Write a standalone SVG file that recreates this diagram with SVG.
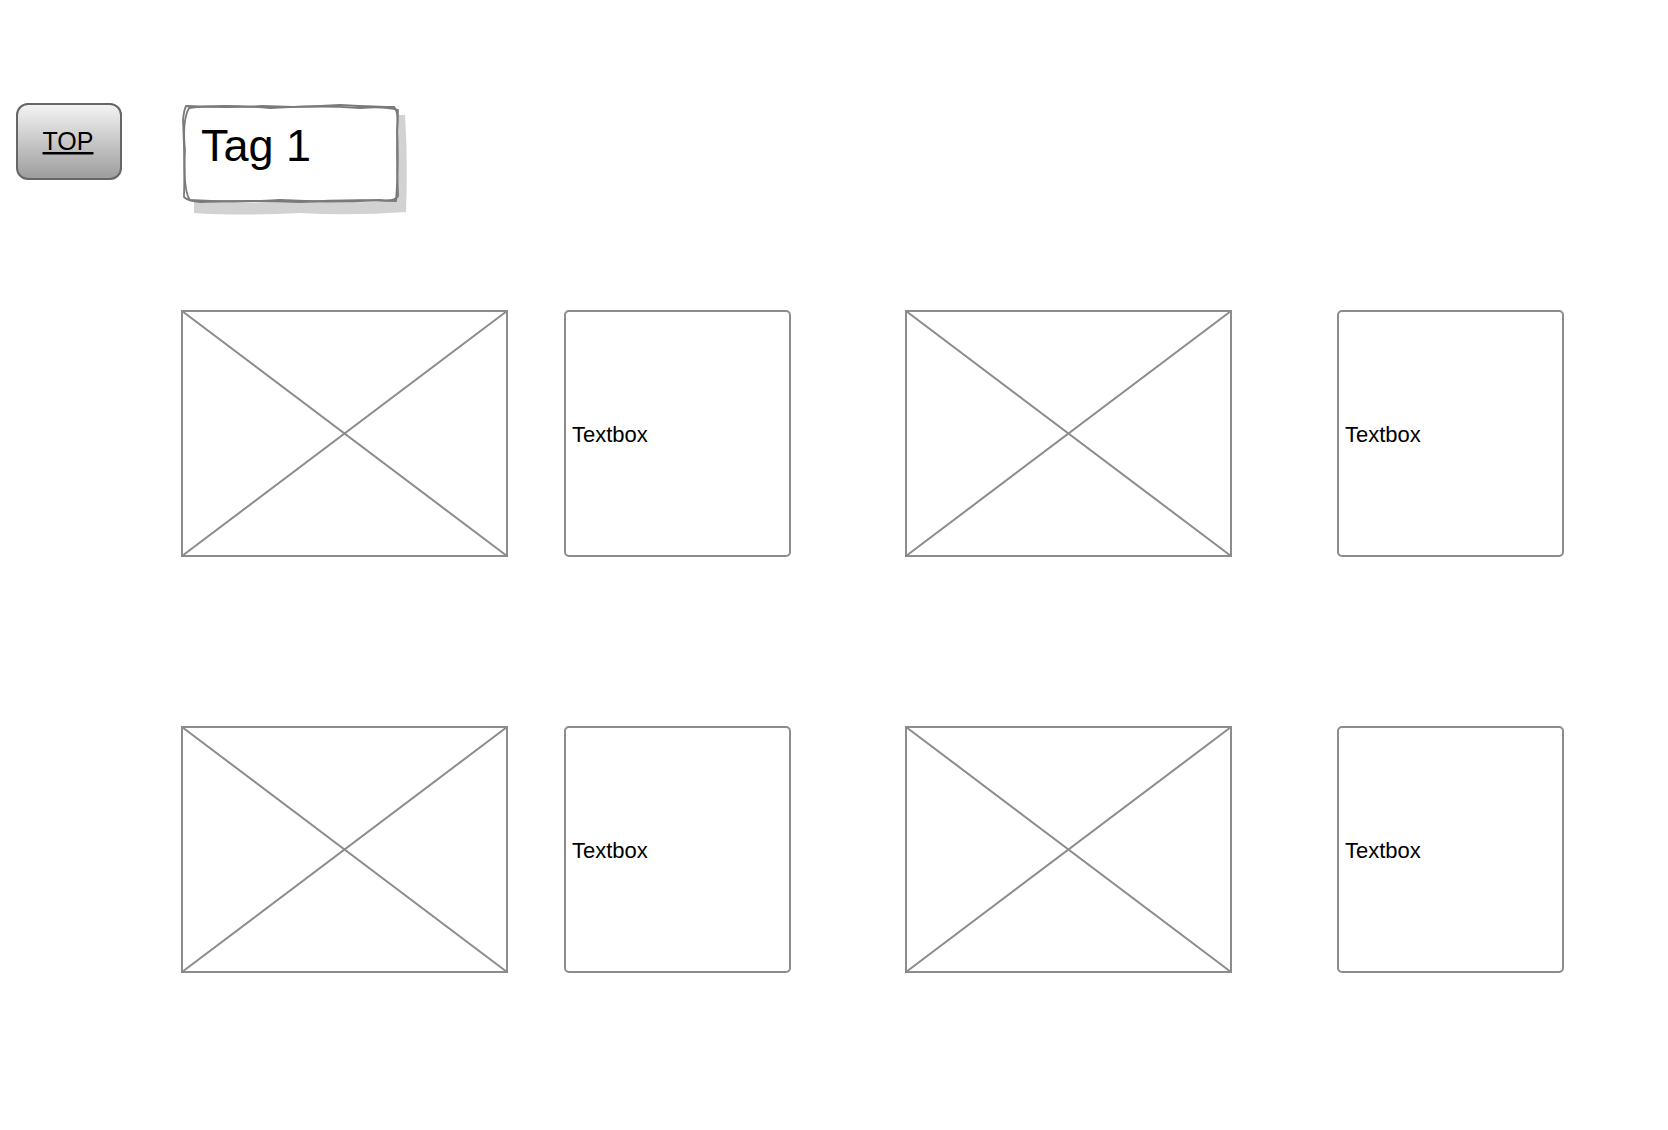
<svg xmlns="http://www.w3.org/2000/svg" width="1668" height="1130" viewBox="0 0 1668 1130">
<style>
.box{fill:#fff;stroke:#8c8c8c;stroke-width:2}
.x{stroke:#8c8c8c;stroke-width:2;fill:none}
.tb{font-family:"Liberation Sans",Arial,sans-serif;font-size:22px;fill:#000}
.sk{fill:none;stroke:#7a7a7a;stroke-width:1.8}
</style>
<defs>
<linearGradient id="btn" x1="0" y1="0" x2="0" y2="1">
<stop offset="0" stop-color="#f4f4f4"/>
<stop offset="1" stop-color="#9c9c9c"/>
</linearGradient>
</defs>
<rect width="1668" height="1130" fill="#fff"/>
<g id="top-button">
<rect x="17" y="104" width="104" height="75" rx="11" fill="url(#btn)" stroke="#666" stroke-width="2"/>
<text x="68" y="150" text-anchor="middle" font-family="'Liberation Sans',Arial,sans-serif" font-size="25" text-decoration="underline" fill="#000">TOP</text>
</g>
<g id="tag1">
<path d="M194,116 Q250,113 300,116 Q360,113 405,115 Q408,160 406,212 Q350,216 300,213 Q240,216 194,213 Z" fill="#d2d2d2"/>
<path d="M184,108 Q190,105 240,107 Q300,104 340,107 Q390,105 396,109 Q399,150 397,200 Q360,204 300,201 Q240,204 186,202 Q182,160 184,108 Z" fill="#fff" stroke="none"/>
<path class="sk" d="M186,106 Q230,108 262,106 Q300,108 340,105 Q380,107 394,107 Q399,112 397,130 Q399,160 396,201 Q350,199 300,202 Q250,200 200,202 Q188,201 184,197 Q185,160 183,120 Q184,110 186,106 Z"/>
<path class="sk" d="M189,108 Q220,104 270,108 Q320,105 360,108 Q385,106 398,110 Q396,150 398,196 Q395,202 380,200 Q330,203 280,200 Q230,203 190,200 Q183,191 185,150 Q182,120 189,108 Z"/>
<text x="201" y="161" font-family="'Liberation Sans',Arial,sans-serif" font-size="45" fill="#000">Tag 1</text>
</g>
<g id="image1">
<rect class="box" x="182" y="311" width="325" height="245"/>
<path class="x" d="M182,311 L507,556 M507,311 L182,556"/>
</g>
<g id="textbox1">
<rect class="box" x="565" y="311" width="225" height="245" rx="4"/>
<text class="tb" x="572" y="442">Textbox</text>
</g>
<g id="image2">
<rect class="box" x="906" y="311" width="325" height="245"/>
<path class="x" d="M906,311 L1231,556 M1231,311 L906,556"/>
</g>
<g id="textbox2">
<rect class="box" x="1338" y="311" width="225" height="245" rx="4"/>
<text class="tb" x="1345" y="442">Textbox</text>
</g>
<g id="image3">
<rect class="box" x="182" y="727" width="325" height="245"/>
<path class="x" d="M182,727 L507,972 M507,727 L182,972"/>
</g>
<g id="textbox3">
<rect class="box" x="565" y="727" width="225" height="245" rx="4"/>
<text class="tb" x="572" y="858">Textbox</text>
</g>
<g id="image4">
<rect class="box" x="906" y="727" width="325" height="245"/>
<path class="x" d="M906,727 L1231,972 M1231,727 L906,972"/>
</g>
<g id="textbox4">
<rect class="box" x="1338" y="727" width="225" height="245" rx="4"/>
<text class="tb" x="1345" y="858">Textbox</text>
</g>
<g id="connectors"/>
</svg>
